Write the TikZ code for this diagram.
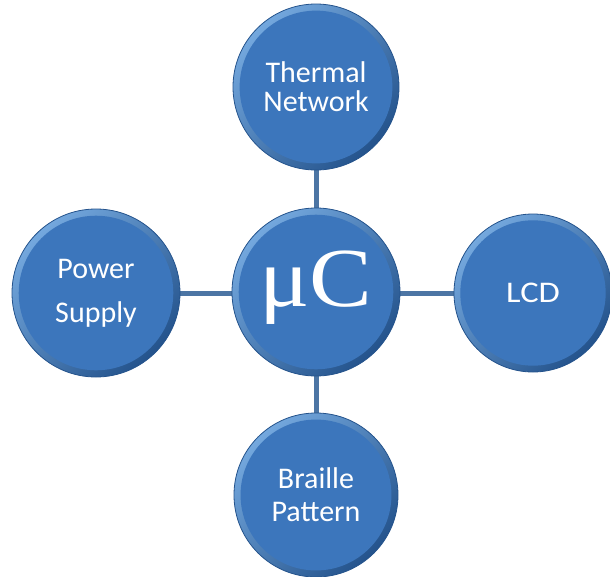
\documentclass[tikz,border=0pt]{standalone}
\usepackage{fontspec}
\setmainfont{Carlito}
\newfontfamily\muserif{Liberation Serif}
\definecolor{rimlight}{HTML}{74A8DE}
\definecolor{rimdark}{HTML}{24538C}
\definecolor{ballfill}{HTML}{3C76BC}
\definecolor{linkcol}{HTML}{4C75A4}
\tikzset{
  x=1pt,y=-1pt,
  ball/.style={circle,minimum size=#1,inner sep=0pt,
    top color=rimlight,bottom color=rimdark,shading angle=45,draw=rimdark,line width=0.8pt,
    text=white,align=center,
    path picture={\fill[ballfill] (path picture bounding box.center) circle[radius=0.46*#1];}},
  link/.style={draw=linkcol,line width=5pt}
}
\begin{document}
\begin{tikzpicture}
\useasboundingbox (0,0) rectangle (610,576);
\path[link] (316,88) -- (316,494);
\path[link] (96,293) -- (533,293);
\node[ball=168pt] (mc) at (316,292) {};
\node[ball=166pt,font=\fontsize{30}{29}\selectfont] (th) at (316,87) {Thermal\\Network};
\node[ball=168pt,font=\fontsize{30}{44}\selectfont] (ps) at (96,293) {Power\\Supply};
\node[ball=158pt,font=\fontsize{30}{30}\selectfont,text width=100pt] (lcd) at (533,293) {\scalebox{1.15}[1]{LCD}};
\node[ball=164pt,font=\fontsize{30}{33}\selectfont] (bp) at (316,495) {Braille\\Pattern};
\node[text=white,font=\muserif\fontsize{84}{84}\selectfont,xscale=1.12] (mctext) at (316,288) {μC};
\end{tikzpicture}
\end{document}
